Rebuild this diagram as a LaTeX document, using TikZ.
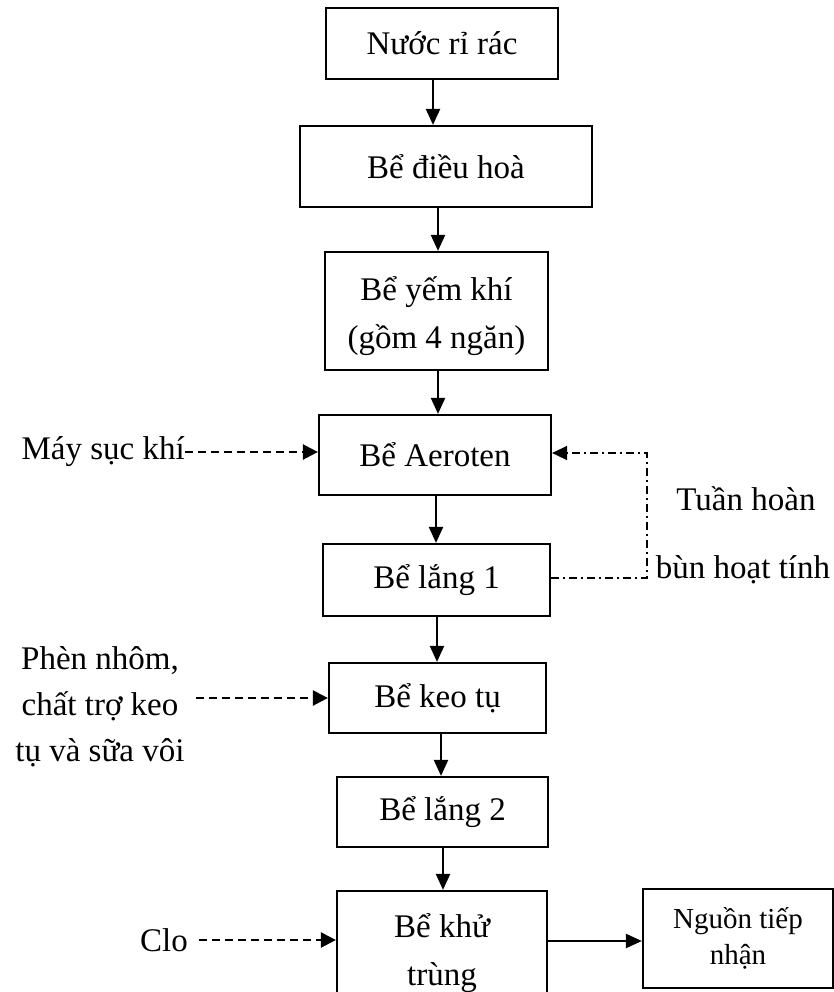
\documentclass[tikz,border=0pt]{standalone}
\usepackage{fontspec}
\setmainfont{Liberation Serif}
\usetikzlibrary{arrows.meta}
\begin{document}
\begin{tikzpicture}[x=1pt,y=-1pt,
  box/.style={draw,line width=2.2pt,inner sep=0pt,align=center,font=\fontsize{33}{48}\selectfont},
  smallbox/.style={draw,line width=2.2pt,inner sep=0pt,align=center,font=\fontsize{29}{36}\selectfont},
  lbl/.style={inner sep=0pt,align=center,font=\fontsize{33}{46}\selectfont},
  arr/.style={line width=2.2pt,-{Triangle[length=16pt,width=14pt]}},
  darr/.style={line width=2.3pt,dash pattern=on 8pt off 5pt,-{Triangle[length=15pt,width=15pt]}},
  ddarr/.style={line width=1.4pt,dash pattern=on 8pt off 4pt on 2pt off 4pt,-{Triangle[length=15pt,width=14pt]}}
]
\useasboundingbox (0,0) rectangle (834,992);
\clip (0,0) rectangle (834,992);

\node[box,minimum width=232pt,minimum height=71pt] (b1) at (442,43.5) {Nước rỉ rác};
\node[box,minimum width=292pt,minimum height=81pt] (b2) at (446,166.5) {Bể điều hoà};
\node[box,minimum width=223pt,minimum height=118pt] (b3) at (436.5,311) {};
\node[lbl,font=\fontsize{33}{48}\selectfont] (b3t) at (436.5,316) {Bể yếm khí\\(gồm 4 ngăn)};
\node[box,minimum width=232pt,minimum height=80pt] (b4) at (435,455) {Bể Aeroten};
\node[box,minimum width=227pt,minimum height=72pt] (b5) at (436.5,580) {Bể lắng 1};
\node[box,minimum width=217pt,minimum height=70pt] (b6) at (437.5,698) {Bể keo tụ};
\node[box,minimum width=211pt,minimum height=70pt] (b7) at (442.5,812) {Bể lắng 2};
\node[box,minimum width=210pt,minimum height=124pt] (b8) at (442,953) {Bể khử\\trùng};
\node[smallbox,minimum width=190pt,minimum height=99pt] (b9) at (738,938.5) {Nguồn tiếp\\nhận};

\node[lbl,anchor=east] (mk) at (185,452) {Máy sục khí};
\node[lbl] (ph) at (100,707) {Phèn nhôm,\\chất trợ keo\\tụ và sữa vôi};
\node[lbl,anchor=east] (clo) at (188,940) {Clo};
\node[lbl] (th1) at (746,499) {Tuần hoàn};
\node[lbl] (th2) at (743,570) {bùn hoạt tính};

\draw[arr] (433,0 |- b1.south) -- (433,0 |- b2.north);
\draw[arr] (438,0 |- b2.south) -- (438,0 |- b3.north);
\draw[arr] (438,0 |- b3.south) -- (438,0 |- b4.north);
\draw[arr] (436,0 |- b4.south) -- (436,0 |- b5.north);
\draw[arr] (437,0 |- b5.south) -- (437,0 |- b6.north);
\draw[arr] (441,0 |- b6.south) -- (441,0 |- b7.north);
\draw[arr] (443,0 |- b7.south) -- (443,0 |- b8.north);
\draw[arr] (b8.east |- 0,941) -- (b9.west |- 0,941);

\draw[darr] (mk.east) -- (mk.east -| b4.west);
\draw[darr] ([xshift=11pt]ph.east |- b6.west) -- (b6.west);
\draw[darr] ([xshift=11pt]clo.east) -- (clo.east -| b8.west);

\coordinate (fb1) at (647,578);
\coordinate (fb2) at (647,453);
\draw[ddarr] (b5.east |- fb1) -- (fb1) -- (fb2) -- (fb2 -| b4.east);
\end{tikzpicture}
\end{document}
